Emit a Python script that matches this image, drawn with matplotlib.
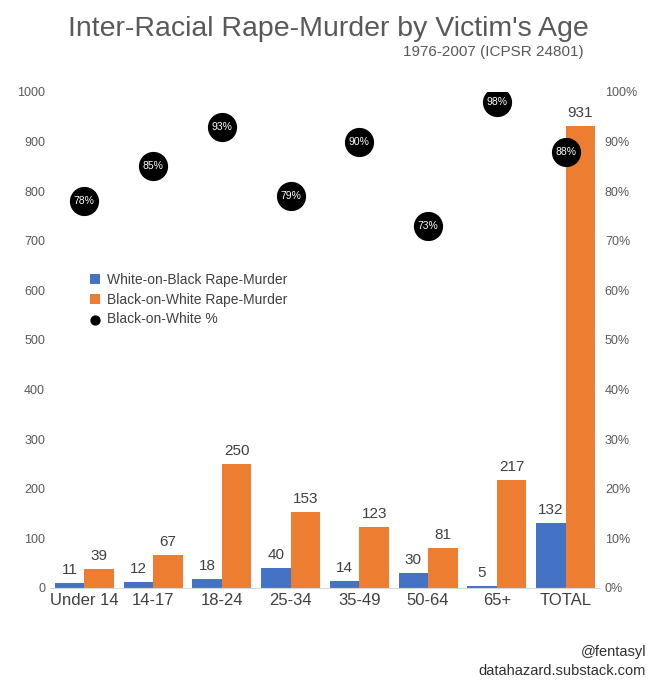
import matplotlib
matplotlib.use("Agg")
import matplotlib.pyplot as plt
import numpy as np

categories = ["Under 14", "14-17", "18-24", "25-34", "35-49", "50-64", "65+", "TOTAL"]
white_on_black = [11, 12, 18, 40, 14, 30, 5, 132]
black_on_white = [39, 67, 250, 153, 123, 81, 217, 931]
bow_pct = [78, 85, 93, 79, 90, 73, 98, 88]

BLUE = "#4472C4"
ORANGE = "#ED7D31"
GRAY = "#595959"

plt.rcParams["font.family"] = "Liberation Sans"

fig = plt.figure(figsize=(6.56, 6.8), dpi=100)
ax = fig.add_axes([50 / 656, 92 / 680, 550 / 656, 496 / 680])
ax2 = ax.twinx()

x = np.arange(len(categories))
w = 0.43
ax.bar(x - w / 2, white_on_black, w, color=BLUE, label="White-on-Black Rape-Murder")
ax.bar(x + w / 2, black_on_white, w, color=ORANGE, label="Black-on-White Rape-Murder")
for xi, v in zip(x, white_on_black):
    ax.text(xi - w / 2, v + 12, str(v), ha="center", va="bottom", fontsize=11, color="#404040")
for xi, v in zip(x, black_on_white):
    ax.text(xi + w / 2, v + 12, str(v), ha="center", va="bottom", fontsize=11, color="#404040")

ax2.scatter(x, [p / 100 for p in bow_pct], s=400, color="black", zorder=5,
            label="Black-on-White %")
for xi, p in zip(x, bow_pct):
    ax2.text(xi, p / 100, f"{p}%", ha="center", va="center", color="white", fontsize=7.5, zorder=6)

ax.set_xlim(-0.5, len(categories) - 0.5)
ax.set_ylim(0, 1000)
ax2.set_ylim(0, 1)
ax.set_yticks(range(0, 1001, 100))
ax2.set_yticks(np.arange(0, 1.01, 0.1))
ax2.set_yticklabels([f"{int(round(t * 100))}%" for t in np.arange(0, 1.01, 0.1)])
ax.set_xticks(x)
ax.set_xticklabels(categories, fontsize=12, color="#404040")
for a in (ax, ax2):
    for s in ("top", "left", "right"):
        a.spines[s].set_visible(False)
    a.tick_params(axis="y", length=0, labelsize=9, colors=GRAY)
ax2.spines["bottom"].set_visible(False)
ax.spines["bottom"].set_color("#d9d9d9")
ax.tick_params(axis="x", length=0)

h1, l1 = ax.get_legend_handles_labels()
h2, l2 = ax2.get_legend_handles_labels()
leg = ax.legend(h1 + h2, l1 + l2, loc="upper left", bbox_to_anchor=(0.05, 0.66),
                frameon=False, fontsize=10, handlelength=0.7, handletextpad=0.5,
                labelspacing=0.4, markerscale=0.32)
for t in leg.get_texts():
    t.set_color("#404040")

fig.text(0.5, 0.958, "Inter-Racial Rape-Murder by Victim's Age", ha="center", va="center",
         fontsize=20.5, color=GRAY)
fig.text(0.89, 0.923, "1976-2007 (ICPSR 24801)", ha="right", va="center", fontsize=11, color=GRAY)
fig.text(0.985, 0.041, "@fentasyl", ha="right", va="center", fontsize=10.5, color="#303030")
fig.text(0.985, 0.013, "datahazard.substack.com", ha="right", va="center", fontsize=10.5,
         color="#303030")

fig.savefig("out.png", dpi=100)
